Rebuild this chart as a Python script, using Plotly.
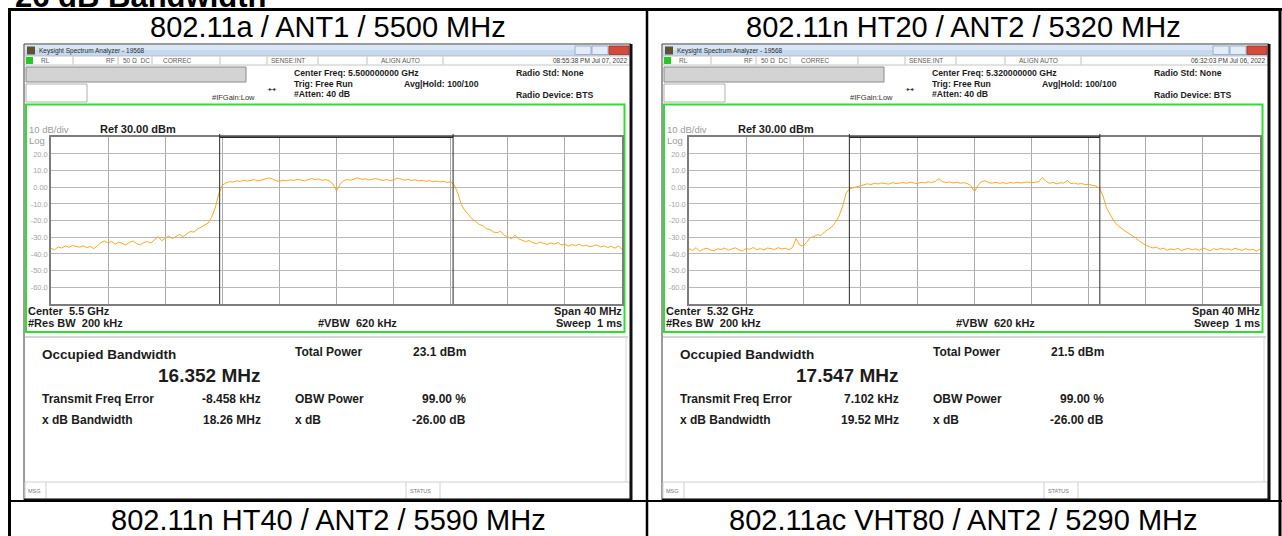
import plotly.graph_objects as go

W, H = 1282, 536
FONT = "Arial, Liberation Sans, sans-serif"

section_title = "26 dB Bandwidth"
cell_titles = ["802.11a / ANT1 / 5500 MHz", "802.11n HT20 / ANT2 / 5320 MHz"]
next_row_titles = ["802.11n HT40 / ANT2 / 5590 MHz", "802.11ac VHT80 / ANT2 / 5290 MHz"]
timestamps = ["08:55:38 PM Jul 07, 2022", "06:32:03 PM Jul 06, 2022"]
center_freq_ghz = ["5.500000000", "5.320000000"]
center_short = ["5.5 GHz", "5.32 GHz"]
obw_mhz = [16.352, 17.547]
freq_err_khz = [-8.458, 7.102]
total_power_dbm = [23.1, 21.5]
xdb_bw_mhz = [18.26, 19.52]
obw_power_pct = [99.00, 99.00]
x_db = [-26.00, -26.00]

# sweep: offset from center in MHz, 0.25 MHz per point (-20 .. +20)
sweep_start = -20
sweep_step = 0.25

trace_5500 = [
    -36.5, -37.5, -35.8, -36.4, -35.2, -36.0, -34.9, -35.6, -35.9, -35.1,
    -36.2, -35.5, -36.8, -35.0, -33.2, -32.1, -33.5, -32.4, -34.1, -32.8,
    -33.9, -34.6, -33.0, -32.2, -33.8, -34.5, -33.1, -32.6, -33.4, -31.5,
    -29.6, -32.0, -30.4, -29.2, -30.8, -29.5, -28.3, -29.6, -27.8, -26.5,
    -26.9, -25.1, -24.0, -22.6, -21.5, -18.0, -12.5, -4.0, 1.2, 2.6,
    3.4, 3.1, 3.9, 3.5, 4.2, 3.7, 4.0, 4.6, 3.8, 4.3,
    4.9, 5.6, 5.1, 4.0, 3.6, 4.2, 3.9, 4.5, 4.1, 4.8,
    4.4, 3.8, 4.6, 5.3, 4.7, 5.0, 4.2, 4.6, 3.9, 2.0,
    -2.2, 1.8, 4.1, 4.6, 4.3, 5.0, 5.7, 4.8, 5.1, 4.4,
    4.9, 5.3, 4.6, 4.1, 4.7, 4.0, 4.4, 5.6, 5.0, 4.3,
    4.8, 4.1, 4.5, 3.9, 4.2, 3.6, 4.0, 3.4, 3.8, 3.2,
    3.6, 2.9, 3.3, 1.5, -3.5, -10.5, -14.0, -16.8, -18.9, -20.6,
    -22.3, -23.0, -24.8, -25.4, -26.8, -27.2, -26.4, -28.9, -29.6, -31.0,
    -28.7, -30.9, -31.8, -32.6, -31.9, -33.2, -33.8, -32.9, -33.6, -34.3,
    -33.4, -34.0, -33.1, -34.6, -34.2, -35.3, -34.4, -35.0, -34.1, -35.2,
    -34.7, -35.6, -35.1, -34.5, -35.8, -35.2, -36.1, -35.4, -36.5, -35.2,
    -37.2,
]

trace_5320 = [
    -36.8, -37.9, -36.2, -38.4, -37.1, -36.5, -37.6, -38.1, -36.9, -37.3,
    -36.4, -37.8, -37.0, -36.3, -37.5, -38.2, -36.7, -37.2, -36.1, -37.4,
    -36.8, -37.6, -36.4, -36.9, -37.3, -36.2, -37.0, -36.6, -37.4, -36.1,
    -30.8, -34.6, -35.2, -32.9, -30.1, -29.6, -28.4, -28.9, -26.7, -25.2,
    -23.8, -21.0, -17.4, -11.8, -3.6, -0.9, -0.3, 0.5, 1.3, 1.8,
    2.1, 1.7, 2.4, 2.0, 2.6, 2.2, 1.9, 2.8, 2.3, 2.5,
    2.9, 2.4, 3.1, 2.6, 2.2, 3.0, 2.7, 3.3, 2.8, 3.6,
    5.2, 3.4, 2.9, 3.2, 2.6, 3.0, 2.4, 2.8, 2.2, 1.0,
    -2.6, 1.3, 3.4, 3.9, 2.7, 2.5, 3.0, 2.4, 2.8, 2.3,
    2.9, 2.5, 3.1, 2.6, 2.8, 3.2, 2.7, 3.0, 3.4, 5.9,
    3.6, 2.4, 2.9, 2.1, 2.7, 2.5, 4.1, 2.2, 2.6, 1.9,
    2.3, 1.6, 1.8, 1.2, 0.8, -0.4, -5.2, -12.3, -16.6, -20.1,
    -22.6, -24.4, -26.0, -27.3, -28.6, -30.1, -31.9, -33.4, -34.8, -35.6,
    -36.4, -35.9, -37.2, -36.5, -37.8, -36.9, -37.4, -36.6, -38.0, -37.1,
    -36.7, -37.5, -36.9, -37.8, -36.4, -37.2, -38.1, -36.8, -37.4, -36.6,
    -37.3, -36.9, -37.7, -36.5, -37.1, -37.9, -36.8, -37.6, -37.2, -38.3,
    -37.0,
]

y_ticks = [20, 10, 0, -10, -20, -30, -40, -50, -60]
y_tick_labels = ["20.0", "10.0", "0.00", "-10.0", "-20.0", "-30.0", "-40.0", "-50.0", "-60.0"]

shapes = []
notes = []


def px(x):
    return x / W


def py(y):
    return 1 - y / H


def rect(x0, y0, x1, y1, fill="rgba(0,0,0,0)", edge=None, lw=1, layer="below"):
    shapes.append(dict(type="rect", xref="paper", yref="paper",
                       x0=px(x0), x1=px(x1), y0=py(y1), y1=py(y0),
                       fillcolor=fill, layer=layer,
                       line=dict(color=edge or "rgba(0,0,0,0)", width=lw if edge else 0)))


def line(x0, y0, x1, y1, color, lw=1, layer="below"):
    shapes.append(dict(type="line", xref="paper", yref="paper",
                       x0=px(x0), x1=px(x1), y0=py(y0), y1=py(y1),
                       line=dict(color=color, width=lw), layer=layer))


def text(x, y, s, size, color="#1c1c1c", bold=False, anchor="left"):
    notes.append(dict(x=px(x), y=py(y), xref="paper", yref="paper", showarrow=False,
                      text=f"<b>{s}</b>" if bold else s, xanchor=anchor, yanchor="middle",
                      borderpad=0, font=dict(family=FONT, size=size, color=color)))


def add_screen(k, dx):
    def R(x0, y0, x1, y1, **kw):
        rect(x0 + dx, y0, x1 + dx, y1, **kw)

    def L(x0, y0, x1, y1, color, lw=1):
        line(x0 + dx, y0, x1 + dx, y1, color, lw)

    def T(x, y, s, size, **kw):
        text(x + dx, y, s, size, **kw)

    # window + title bar
    R(24, 44, 631, 500, fill="white", edge="#3a3a3a", lw=1)
    R(25, 45, 630, 56, fill="#c6d9ee")
    R(25, 45, 630, 50, fill="#d9e6f5")
    R(27, 46.5, 35, 54.5, fill="#5f5030")
    T(38, 50.5, "Keysight Spectrum Analyzer - 19568", 6.5, color="#2b2b2b")
    R(575, 46, 591, 54.5, fill="#e3ecf7", edge="#8da3c0", lw=0.8)
    R(592, 46, 608, 54.5, fill="#e3ecf7", edge="#8da3c0", lw=0.8)
    R(609, 46, 629, 54.5, fill="#d24b3c", edge="#9c2f25", lw=0.8)

    # status row
    R(25, 56, 630, 65, fill="white", edge="#b5b5b5", lw=0.8)
    R(26, 57, 33, 64, fill="#25c825")
    for sx in [73, 118, 152, 220, 267, 318, 367, 443]:
        L(sx, 56.5, sx, 64.5, "#c0c0c0")
    for sx, s in [(40, "RL"), (105, "RF"), (122, "50 Ω\u00a0\u00a0DC"), (162, "CORREC"),
                  (270, "SENSE:INT"), (380, "ALIGN AUTO")]:
        T(sx, 60.5, s, 6.5, color="#5a5a5a")
    T(628, 60.5, timestamps[k], 6.5, color="#3a3a3a", anchor="right")

    # settings header
    R(26, 67, 246, 82, fill="#d3d3d3", edge="#8a8a8a", lw=1)
    R(26, 84, 87, 102, fill="white", edge="#b0b0b0", lw=1)
    T(293, 73, f"Center Freq: {center_freq_ghz[k]} GHz", 8.7, bold=True)
    T(293, 84, "Trig: Free Run", 8.7, bold=True)
    T(403, 84, "Avg|Hold: 100/100", 8.7, bold=True)
    T(293, 94, "#Atten: 40 dB", 8.7, bold=True)
    T(211, 97, "#IFGain:Low", 7.5, color="#333333")
    T(266, 89, "-▸◂-", 5.5, color="#333333")
    T(515, 73, "Radio Std: None", 8.7, bold=True)
    T(515, 95, "Radio Device: BTS", 8.7, bold=True)

    # green graticule frame
    R(26, 104.5, 624.5, 332, edge="#2de02d", lw=2)
    T(28, 129.5, "10 dB/div", 9.5, color="#9b9b9b")
    T(28, 140.5, "Log", 9.5, color="#9b9b9b")
    T(99, 129.5, "Ref 30.00 dBm", 11, bold=True)
    T(27, 311, f"Center\u00a0\u00a0{center_short[k]}", 11, bold=True)
    T(623, 311, "Span 40 MHz", 11, bold=True, anchor="right")
    T(27, 323, "#Res BW\u00a0\u00a0200 kHz", 11, bold=True)
    T(357, 323, "#VBW\u00a0\u00a0620 kHz", 11, bold=True, anchor="center")
    T(623, 323, "Sweep\u00a0\u00a01 ms", 11, bold=True, anchor="right")

    # results
    L(25, 337, 628, 337, "#c8c8c8", 1.5)
    L(626, 337, 626, 482, "#d8d8d8", 1)
    T(41, 354, "Occupied Bandwidth", 13.5, bold=True)
    T(261, 375, f"{obw_mhz[k]:.3f} MHz", 19, bold=True, anchor="right")
    T(294, 352, "Total Power", 12, bold=True)
    T(467, 352, f"{total_power_dbm[k]:.1f} dBm", 12, bold=True, anchor="right")
    T(41, 399, "Transmit Freq Error", 12, bold=True)
    T(262, 399, f"{freq_err_khz[k]:.3f} kHz", 12, bold=True, anchor="right")
    T(294, 399, "OBW Power", 12, bold=True)
    T(467, 399, f"{obw_power_pct[k]:.2f} %", 12, bold=True, anchor="right")
    T(41, 420, "x dB Bandwidth", 12, bold=True)
    T(262, 420, f"{xdb_bw_mhz[k]:.2f} MHz", 12, bold=True, anchor="right")
    T(294, 420, "x dB", 12, bold=True)
    T(467, 420, f"{x_db[k]:.2f} dB", 12, bold=True, anchor="right")

    # message / status bar
    R(25, 482, 630, 499, fill="white", edge="#d0d0d0", lw=1)
    L(46, 482, 46, 499, "#d0d0d0")
    L(406, 482, 406, 499, "#d0d0d0")
    L(440, 482, 440, 499, "#d0d0d0")
    T(27, 490.5, "MSG", 5.5, color="#777777")
    T(409, 490.5, "STATUS", 5.5, color="#777777")
    L(631, 44, 631, 501, "#111111", 3)
    L(24, 500, 632, 500, "#111111", 3)

    # OBW markers
    xa = "x" if k == 0 else "x2"
    yd = ("y" if k == 0 else "y2") + " domain"
    c = freq_err_khz[k] / 1000
    lo, hi = c - obw_mhz[k] / 2, c + obw_mhz[k] / 2
    for f in (lo, hi):
        shapes.append(dict(type="line", xref=xa, yref=yd, x0=f, x1=f, y0=0, y1=1.02,
                           line=dict(color="#2a2a2a", width=1)))
    shapes.append(dict(type="line", xref=xa, yref=yd, x0=lo, x1=hi, y0=1, y1=1,
                       line=dict(color="#2a2a2a", width=1.5)))


fig = go.Figure()
for k, (vals, xa, ya) in enumerate([(trace_5500, "x", "y"), (trace_5320, "x2", "y2")]):
    fig.add_trace(go.Scatter(
        y=vals, x0=sweep_start, dx=sweep_step, mode="lines",
        line=dict(color="#ffa620", width=1), xaxis=xa, yaxis=ya,
        hoverinfo="skip", showlegend=False
    ))

add_screen(0, 0)
add_screen(1, 638)

# table grid
line(8, 9.5, 1282, 9.5, "black", 3, layer="above")
line(9.5, 8, 9.5, 536, "black", 3, layer="above")
line(647, 8, 647, 536, "black", 2.5, layer="above")
line(1280, 8, 1280, 536, "black", 3, layer="above")
line(8, 501, 1282, 501, "black", 2, layer="above")

text(14, -3.5, section_title, 31, color="black", bold=True)
text(328.5, 27, cell_titles[0], 29, color="black", anchor="center")
text(963.5, 27, cell_titles[1], 29, color="black", anchor="center")
text(328.5, 520, next_row_titles[0], 29, color="black", anchor="center")
text(963.5, 520, next_row_titles[1], 29, color="black", anchor="center")

axis_x = dict(range=[-20, 20], dtick=4, tick0=0, showticklabels=False, ticks="",
              showgrid=True, gridcolor="#ababab", gridwidth=1, zeroline=False,
              showline=True, mirror=True, linecolor="#7d7d7d", linewidth=1.5, fixedrange=True)
axis_y = dict(range=[-70, 30], tickvals=y_ticks, ticktext=y_tick_labels,
              tickfont=dict(family=FONT, size=7.5, color="#a5a5a5"), ticks="",
              showgrid=True, gridcolor="#b9b9b9", zeroline=False,
              showline=True, mirror=True, linecolor="#7d7d7d", linewidth=1.5, fixedrange=True)

fig.update_layout(
    width=W, height=H,
    margin=dict(l=0, r=0, t=0, b=0),
    paper_bgcolor="white",
    plot_bgcolor="rgba(0,0,0,0)",
    showlegend=False,
    xaxis=dict(domain=[px(51), px(622)], anchor="y", **axis_x),
    yaxis=dict(domain=[py(304), py(137.3)], anchor="x", **axis_y),
    xaxis2=dict(domain=[px(689), px(1260)], anchor="y2", **axis_x),
    yaxis2=dict(domain=[py(304), py(137.3)], anchor="x2", **axis_y),
    shapes=shapes,
    annotations=notes,
)

fig.write_html(
    "out.html",
    config={"displayModeBar": False},
    post_script="document.body.style.margin='0';document.body.style.overflow='hidden';",
)
